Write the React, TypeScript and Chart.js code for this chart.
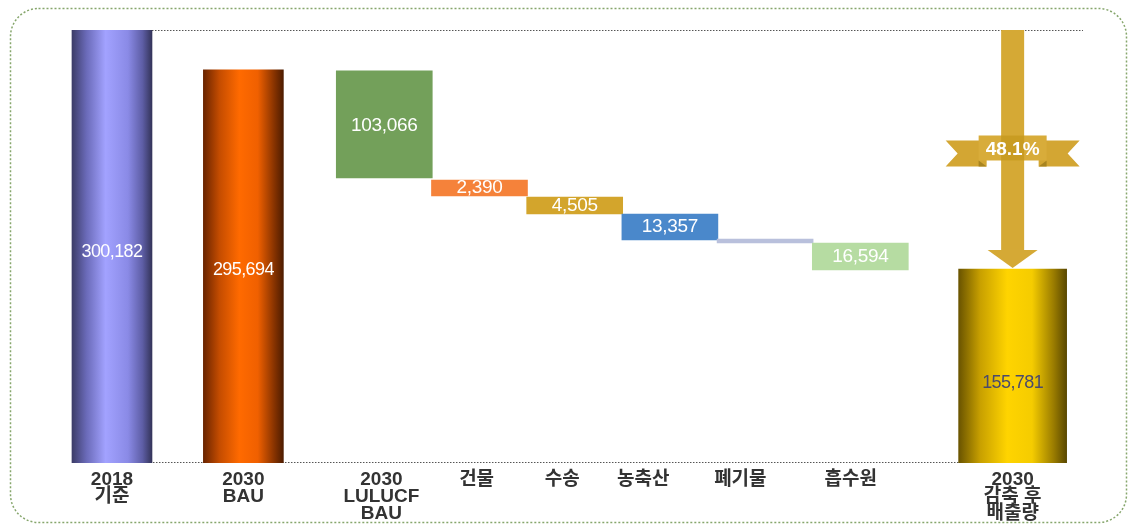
import { useEffect, useRef } from "react";
import { Chart, registerables } from "chart.js";

Chart.register(...registerables);

// ---- data ----
const categories: string[][] = [
  ["2018", "기준"],
  ["2030", "BAU"],
  ["2030", "LULUCF", "BAU"],
  ["건물"],
  ["수송"],
  ["농축산"],
  ["폐기물"],
  ["흡수원"],
  ["2030", "감축 후", "배출량"],
];
const valueLabels = ["300,182", "295,694", "103,066", "2,390", "4,505", "13,357", "", "16,594", "155,781"];
// bar extents as drawn in the picture (same units as the labels)
const barLow = [0, 0, 197600, 185100, 172600, 154600, 152500, 133800, 0];
const barHigh = [300182, 272500, 271800, 196200, 184400, 172600, 155300, 152500, 134500];
const reductionLabel = "48.1%";

// ---- layout / style ----
const slotGap = [0, 0.38, 0.48, 0, 0, 0, 0, 0, 0.6];
const tickNudge = [0, 0, -0.03, -0.03, -0.13, -0.28, -0.26, -0.1, 0];
const slotPos: number[] = [];
{
  let acc = 0;
  slotGap.forEach((g, i) => {
    acc += g;
    slotPos.push(i + acc);
  });
}
const groups = [
  { idx: [0, 1], thickness: 80 },
  { idx: [2, 3, 4, 5, 6, 7], thickness: 96 },
  { idx: [8], thickness: 108 },
];
const cylinderStops: Record<number, [number, string][]> = {
  0: [[0, "#3c3c68"], [0.18, "#6a6ab8"], [0.42, "#a2a2ff"], [0.7, "#8a8ae6"], [0.88, "#5e5ea6"], [1, "#34345a"]],
  1: [[0, "#6a2400"], [0.2, "#c44c00"], [0.45, "#ff6a00"], [0.68, "#f06000"], [0.88, "#8a3400"], [1, "#4e1c00"]],
  8: [[0, "#6a5400"], [0.2, "#c8a000"], [0.45, "#ffd400"], [0.68, "#f5cc00"], [0.88, "#9a7c00"], [1, "#5a4800"]],
};
const solidColors: Record<number, string> = {
  2: "#73a05a",
  3: "#f5823a",
  4: "#d3a52c",
  5: "#4a88cb",
  6: "#b9c0dc",
  7: "#b6dca2",
};
const labelColor = ["#ffffff", "#ffffff", "#ffffff", "#ffffff", "#ffffff", "#ffffff", "#ffffff", "#ffffff", "#4a4a6c"];
const labelSize = [18, 18, 19, 19, 19, 19, 19, 19, 18];
const labelShift = [6, 4, 1, 0, 0, 0, 0, 0, 17];
const FONT = '"Liberation Sans", Arial, "Noto Sans CJK KR", sans-serif';

function fillFor(ctx: any, gi: number, thickness: number) {
  if (solidColors[gi]) return solidColors[gi];
  const stops = cylinderStops[gi];
  const chart = ctx.chart;
  const xs = chart.scales && chart.scales.x;
  if (!xs || !chart.chartArea) return stops[2][1];
  const cx = xs.getPixelForValue(slotPos[gi]);
  const g = chart.ctx.createLinearGradient(cx - thickness / 2, 0, cx + thickness / 2, 0);
  stops.forEach(([o, c]) => g.addColorStop(o, c));
  return g;
}

const framePlugin = {
  id: "frame",
  beforeDraw(chart: any) {
    const c = chart.ctx;
    c.save();
    c.strokeStyle = "#86a66c";
    c.lineWidth = 1.5;
    c.setLineDash([2, 2]);
    c.beginPath();
    c.roundRect(10.5, 8.5, 1116, 514, 28);
    c.stroke();
    // dotted guide lines
    const ca = chart.chartArea;
    const first = chart.getDatasetMeta(0).data[0];
    const last = chart.getDatasetMeta(2).data[0];
    c.strokeStyle = "#555";
    c.lineWidth = 1;
    c.setLineDash([1.5, 1.5]);
    c.beginPath();
    c.moveTo(first.x + first.width / 2, ca.top + 0.5);
    c.lineTo(ca.right - 2, ca.top + 0.5);
    c.moveTo(first.x + 14, ca.bottom - 0.5);
    c.lineTo(last.x, ca.bottom - 0.5);
    c.stroke();
    c.restore();
  },
};

const labelsPlugin = {
  id: "valueLabels",
  afterDatasetsDraw(chart: any) {
    const c = chart.ctx;
    c.save();
    c.textAlign = "center";
    c.textBaseline = "middle";
    groups.forEach((g, di) => {
      const meta = chart.getDatasetMeta(di);
      meta.data.forEach((el: any, k: number) => {
        const gi = g.idx[k];
        const txt = valueLabels[gi];
        if (!txt) return;
        c.font = `${labelSize[gi]}px ${FONT}`;
        (c as any).letterSpacing = labelSize[gi] === 18 ? "-0.6px" : "-0.3px";
        c.fillStyle = labelColor[gi];
        c.fillText(txt, el.x, (el.y + el.base) / 2 + labelShift[gi]);
      });
    });
    c.restore();
  },
};

const arrowPlugin = {
  id: "arrow",
  afterDatasetsDraw(chart: any) {
    const c = chart.ctx;
    const ca = chart.chartArea;
    const el = chart.getDatasetMeta(2).data[0];
    const x = el.x;
    const top = ca.top;
    const barTop = el.y;
    const gold = "#d5a935";
    c.save();
    c.fillStyle = gold;
    const headH = 19;
    c.fillRect(x - 11.5, top, 23, barTop - headH - top);
    c.beginPath();
    c.moveTo(x - 25, barTop - headH);
    c.lineTo(x + 25, barTop - headH);
    c.lineTo(x, barTop - 1);
    c.closePath();
    c.fill();
    const cy = (top + barTop) / 2;
    c.fillStyle = "#d3a633";
    for (const s of [-1, 1]) {
      c.beginPath();
      c.moveTo(x + s * 26, cy - 9);
      c.lineTo(x + s * 67, cy - 9);
      c.lineTo(x + s * 55, cy + 4);
      c.lineTo(x + s * 67, cy + 17);
      c.lineTo(x + s * 26, cy + 17);
      c.closePath();
      c.fill();
    }
    c.fillStyle = "#a88420";
    for (const s of [-1, 1]) {
      c.beginPath();
      c.moveTo(x + s * 34, cy + 11);
      c.lineTo(x + s * 26, cy + 17);
      c.lineTo(x + s * 34, cy + 17);
      c.closePath();
      c.fill();
    }
    c.fillStyle = "#d8ac3a";
    c.fillRect(x - 34, cy - 14, 68, 25);
    c.fillStyle = "#c99c22";
    c.fillRect(x - 11.5, cy - 14, 23, 25);
    c.fillStyle = "#ffffff";
    c.font = `bold 19px ${FONT}`;
    c.textAlign = "center";
    c.textBaseline = "middle";
    c.fillText(reductionLabel, x, cy);
    c.restore();
  },
};

export default function App() {
  const ref = useRef<HTMLCanvasElement | null>(null);
  useEffect(() => {
    if (!ref.current) return;
    const chart = new Chart(ref.current, {
      type: "bar",
      data: {
        datasets: groups.map((g) => ({
          data: g.idx.map((i) => ({ x: slotPos[i], y: [barLow[i], barHigh[i]] })),
          barThickness: g.thickness,
          grouped: false,
          borderWidth: 0,
          borderSkipped: false,
          backgroundColor: (ctx: any) => fillFor(ctx, g.idx[ctx.dataIndex] ?? g.idx[0], g.thickness),
        })) as any,
      },
      options: {
        animation: false,
        responsive: false,
        devicePixelRatio: 1,
        layout: { padding: { left: 50, right: 45, top: 30, bottom: 0 } },
        plugins: { legend: { display: false }, tooltip: { enabled: false } },
        scales: {
          x: {
            type: "linear",
            offset: false,
            min: -0.651,
            max: 10.22,
            grid: { display: false, drawTicks: false, offset: false },
            border: { display: false },
            afterBuildTicks: (s: any) => {
              s.ticks = slotPos.map((v, i) => ({ value: v + tickNudge[i] }));
            },
            afterFit: (s: any) => {
              s.height = 64;
            },
            ticks: {
              autoSkip: false,
              maxRotation: 0,
              padding: 8,
              color: "#333333",
              font: { family: FONT, size: 19, weight: "bold", lineHeight: "17px" },
              callback: (_v: any, i: number) => categories[i],
            },
          } as any,
          y: { display: false, min: 0, max: 300182 },
        },
      },
      plugins: [framePlugin, labelsPlugin, arrowPlugin],
    });
    return () => chart.destroy();
  }, []);
  return (
    <div style={{ position: "absolute", left: 0, top: 0, width: 1130, height: 527, background: "#fff" }}>
      <canvas ref={ref} width={1130} height={527} style={{ display: "block" }} />
    </div>
  );
}
